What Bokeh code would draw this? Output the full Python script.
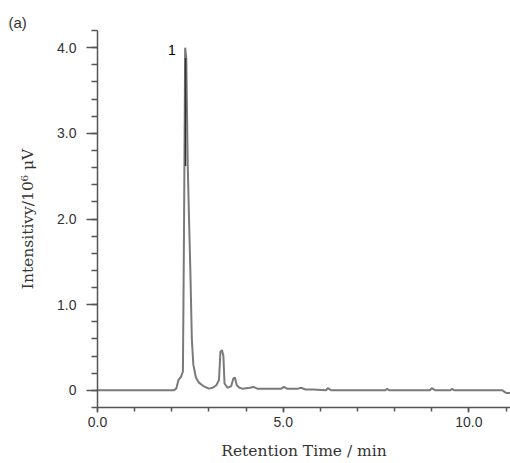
from bokeh.plotting import figure
from bokeh.models import Range1d, FixedTicker, Label, Title
from bokeh.embed import file_html
from bokeh.resources import INLINE

# Chromatogram trace (retention time in min, intensity in 10^6 uV)
time_min = [0.0, 2.05, 2.12, 2.18, 2.25, 2.30, 2.33, 2.36, 2.39, 2.43, 2.47, 2.50, 2.54,
            2.58, 2.65, 2.73, 2.85, 3.00, 3.10, 3.20, 3.27, 3.31, 3.35, 3.39, 3.42,
            3.50, 3.60, 3.66, 3.70, 3.75, 3.82, 3.90, 4.10, 4.20, 4.30, 4.50, 4.95,
            5.02, 5.10, 5.40, 5.48, 5.60, 5.80, 6.15, 6.20, 6.30, 7.75, 7.80, 7.85,
            8.95, 9.00, 9.10, 9.50, 9.55, 9.60, 10.90, 11.00, 11.20]
intensity = [0.0, 0.0, 0.02, 0.12, 0.16, 0.22, 1.90, 4.00, 3.88, 2.62, 1.90, 1.40, 0.60,
             0.30, 0.15, 0.09, 0.05, 0.02, 0.03, 0.06, 0.12, 0.45, 0.47, 0.40, 0.08,
             0.03, 0.05, 0.14, 0.15, 0.06, 0.03, 0.02, 0.03, 0.04, 0.02, 0.02, 0.02,
             0.04, 0.02, 0.02, 0.03, 0.01, 0.01, 0.0, 0.025, 0.0, 0.0, 0.02, 0.0,
             0.0, 0.025, 0.0, 0.0, 0.02, 0.0, 0.0, -0.03, -0.03]
# darker core of the main peak
core_time = [2.37, 2.37]
core_intensity = [2.62, 3.88]

x_ticks = [0, 5, 10]
x_labels = ["0.0", "5.0", "10.0"]
y_ticks = [0, 1, 2, 3, 4]
y_labels = ["0", "1.0", "2.0", "3.0", "4.0"]

peak_label = "1"
peak_x, peak_y = 2.0, 3.97

tick_font = "Liberation Sans"
lab_font = "DejaVu Serif"

p = figure(width=510, height=463, output_backend="svg", toolbar_location=None,
           x_range=Range1d(0, 11.12), y_range=Range1d(-0.2, 4.2),
           min_border_left=97, min_border_right=0, min_border_top=30,
           min_border_bottom=56)
p.title = Title(text="(a)", align="left", offset=-89, standoff=0,
                text_font=tick_font, text_font_size="15px",
                text_font_style="normal", text_color="#333333")
p.outline_line_color = None
p.grid.grid_line_color = None
p.background_fill_color = "white"
p.border_fill_color = "white"

p.line(time_min, intensity, line_color="#7a7a7a", line_width=2)
p.line(core_time, core_intensity, line_color="#333333", line_width=1.5)

xa = p.xaxis[0]
xa.ticker = FixedTicker(ticks=x_ticks, minor_ticks=list(range(0, 12)))
xa.major_label_overrides = {t: l for t, l in zip(x_ticks, x_labels)}
xa.axis_label = "Retention Time / min"
xa.axis_label_text_font = lab_font
xa.axis_label_text_font_style = "normal"
xa.axis_label_text_font_size = "15.5px"
xa.axis_label_text_color = "#333333"
xa.axis_label_standoff = 12
xa.major_label_text_font = tick_font
xa.major_label_text_font_size = "14px"
xa.major_label_text_color = "#333333"
xa.major_label_standoff = 4
xa.major_tick_out = 5
xa.major_tick_in = 0
xa.minor_tick_out = 4
xa.minor_tick_in = 0
xa.axis_line_color = "#555555"
xa.axis_line_width = 1.5
xa.major_tick_line_color = "#555555"
xa.major_tick_line_width = 1.5
xa.minor_tick_line_color = "#555555"
xa.minor_tick_line_width = 1.5

ya = p.yaxis[0]
ya.ticker = FixedTicker(ticks=y_ticks,
                        minor_ticks=[round(-0.2 + 0.2 * i, 2) for i in range(23)])
ya.major_label_overrides = {t: l for t, l in zip(y_ticks, y_labels)}
ya.axis_label = "Intensitivy/10\u2076 \u03bcV"
ya.axis_label_text_font = lab_font
ya.axis_label_text_font_style = "normal"
ya.axis_label_text_font_size = "15.5px"
ya.axis_label_text_color = "#333333"
ya.axis_label_standoff = 17
ya.major_label_text_font = tick_font
ya.major_label_text_font_size = "14px"
ya.major_label_text_color = "#333333"
ya.major_label_standoff = 10
ya.major_tick_out = 11
ya.major_tick_in = 0
ya.minor_tick_out = 6
ya.minor_tick_in = 0
ya.axis_line_color = "#555555"
ya.axis_line_width = 1.5
ya.major_tick_line_color = "#555555"
ya.major_tick_line_width = 1.5
ya.minor_tick_line_color = "#555555"
ya.minor_tick_line_width = 1.5

p.add_layout(Label(x=peak_x, y=peak_y, text=peak_label, text_align="center",
                   text_baseline="middle", text_font=tick_font,
                   text_font_size="14px", text_color="#000000"))

open("out.html", "w").write(file_html(p, INLINE))
